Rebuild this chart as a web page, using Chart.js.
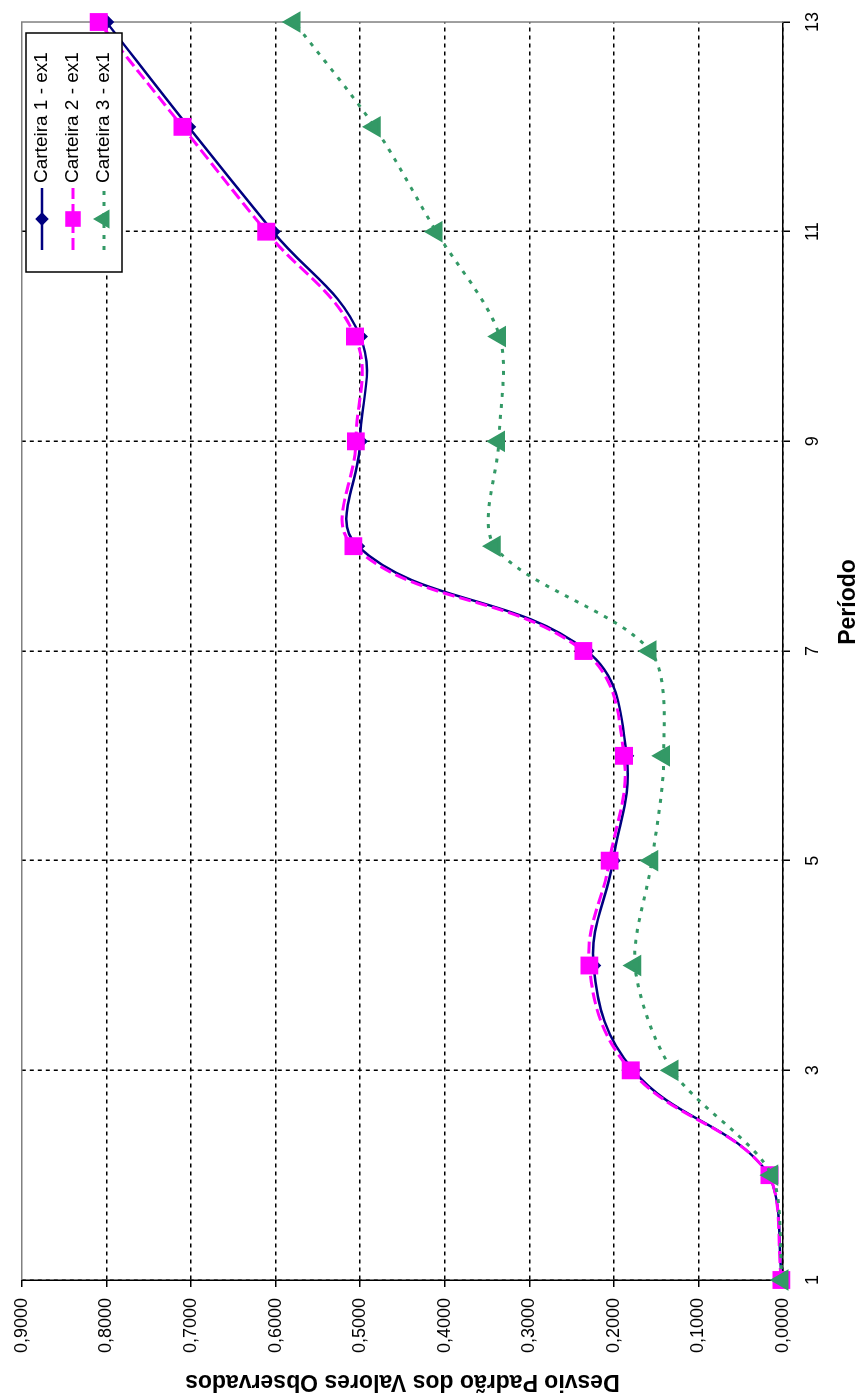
<!DOCTYPE html>
<html>
<head>
<meta charset="utf-8">
<title>Desvio Padrão dos Valores Observados</title>
<script src="https://cdn.jsdelivr.net/npm/chart.js@4.4.1/dist/chart.umd.min.js"></script>
<style>
    html, body { margin: 0; padding: 0; background: #fff; overflow: hidden; }
    /* o gráfico é desenhado deitado e girado 90° */
    #wrap {
        position: absolute; left: 0; top: 0;
        width: 1397px; height: 865px;
        transform-origin: 0 0;
        transform: translateY(1397px) rotate(-90deg);
    }
</style>
</head>
<body>
<div id="wrap"><canvas id="desvioChart" width="1397" height="865"></canvas></div>
<script>
// Períodos e desvio padrão de cada carteira
var periodos = [1, 2, 3, 4, 5, 6, 7, 8, 9, 10, 11, 12, 13];
var carteira1 = [0.001, 0.016, 0.177, 0.224, 0.201, 0.185, 0.232, 0.503, 0.500, 0.500, 0.603, 0.703, 0.800];
var carteira2 = [0.002, 0.016, 0.180, 0.229, 0.205, 0.188, 0.236, 0.508, 0.505, 0.506, 0.611, 0.710, 0.809];
var carteira3 = [0.001, 0.013, 0.131, 0.175, 0.155, 0.141, 0.157, 0.341, 0.336, 0.335, 0.410, 0.483, 0.578];

var ticksPeriodo = [1, 3, 5, 7, 9, 11, 13];
var ticksDesvio = [0, 0.1, 0.2, 0.3, 0.4, 0.5, 0.6, 0.7, 0.8, 0.9];

var fonte = 'Liberation Sans, Arial, sans-serif';
Chart.defaults.font.family = fonte;
Chart.defaults.color = '#000';

function pontos(valores) {
    return periodos.map(function(p, i) { return { x: p, y: valores[i] }; });
}

// linhas de grade tracejadas; a última fica cinza (borda da área)
function corGrade(ctx) {
    return ctx.tick && ctx.tick.value === ctx.scale.max ? 'rgba(0,0,0,0)' : '#000';
}

// legenda com moldura dentro da área do gráfico
var legendaCaixa = {
    id: 'legendaCaixa',
    afterDraw: function(chart) {
        var ctx = chart.ctx;
        var x0 = 1125, y0 = 26, w = 239, h = 96;
        ctx.save();
        ctx.fillStyle = '#fff';
        ctx.fillRect(x0, y0, w, h);
        ctx.strokeStyle = '#000';
        ctx.lineWidth = 1.5;
        ctx.strokeRect(x0, y0, w, h);
        chart.data.datasets.forEach(function(ds, i) {
            var y = y0 + 16 + i * 31;
            ctx.strokeStyle = ds.borderColor;
            ctx.lineWidth = ds.borderWidth;
            ctx.setLineDash(ds.borderDash || []);
            ctx.beginPath();
            ctx.moveTo(x0 + 22, y);
            ctx.lineTo(x0 + 84, y);
            ctx.stroke();
            ctx.setLineDash([]);
            ctx.fillStyle = ds.pointBackgroundColor;
            ctx.strokeStyle = ds.pointBorderColor;
            Chart.helpers.drawPoint(ctx, {
                pointStyle: ds.pointStyle, radius: ds.pointRadius * 0.85, borderWidth: 1, rotation: 0
            }, x0 + 53, y);
            ctx.fillStyle = '#000';
            ctx.font = '19px ' + fonte;
            ctx.textAlign = 'left';
            ctx.textBaseline = 'middle';
            ctx.fillText(ds.label, x0 + 89, y);
        });
        // título do eixo X
        ctx.font = 'bold 23px ' + fonte;
        ctx.textAlign = 'center';
        ctx.textBaseline = 'middle';
        ctx.fillText('Período', 795, 849);
        ctx.restore();
    }
};

// borda cinza no topo e à direita da área de plotagem
var bordaArea = {
    id: 'bordaArea',
    beforeDatasetsDraw: function(chart) {
        var a = chart.chartArea, ctx = chart.ctx;
        ctx.save();
        ctx.strokeStyle = '#808080';
        ctx.lineWidth = 1.5;
        ctx.beginPath();
        ctx.moveTo(a.left, a.top);
        ctx.lineTo(a.right, a.top);
        ctx.lineTo(a.right, a.bottom);
        ctx.stroke();
        ctx.restore();
    }
};

var ctx1 = document.getElementById('desvioChart').getContext('2d');
var desvioChart = new Chart(ctx1, {
    type: 'line',
    data: {
        datasets: [{
            label: 'Carteira 1 - ex1',
            data: pontos(carteira1),
            borderColor: '#000080',
            backgroundColor: '#000080',
            borderWidth: 2.5,
            pointStyle: 'rectRot',
            pointRadius: 6,
            pointBackgroundColor: '#000080',
            pointBorderColor: '#000080',
            tension: 0.4,
            clip: false,
            order: 3
        }, {
            label: 'Carteira 2 - ex1',
            data: pontos(carteira2),
            borderColor: '#ff00ff',
            backgroundColor: '#ff00ff',
            borderWidth: 3,
            borderDash: [12, 5],
            pointStyle: 'rect',
            pointRadius: 10.5,
            pointBackgroundColor: '#ff00ff',
            pointBorderColor: '#ff00ff',
            tension: 0.4,
            clip: false,
            order: 2
        }, {
            label: 'Carteira 3 - ex1',
            data: pontos(carteira3),
            borderColor: '#339966',
            backgroundColor: '#339966',
            borderWidth: 3,
            borderDash: [4, 7],
            pointStyle: 'triangle',
            pointRadius: 9.5,
            pointBackgroundColor: '#339966',
            pointBorderColor: '#339966',
            tension: 0.3,
            clip: false,
            order: 1
        }]
    },
    options: {
        responsive: false,
        animation: false,
        devicePixelRatio: 1,
        layout: { padding: { top: 20, right: 16, left: 0, bottom: 0 } },
        plugins: {
            legend: { display: false },
            tooltip: { enabled: false }
        },
        scales: {
            x: {
                type: 'linear',
                position: 'bottom',
                min: 1,
                max: 13,
                afterBuildTicks: function(s) {
                    s.ticks = ticksPeriodo.map(function(v) { return { value: v }; });
                },
                afterFit: function(s) { s.height = 82; },
                ticks: { font: { size: 18 }, padding: 12, maxRotation: 0, autoSkip: false },
                grid: { color: corGrade, lineWidth: 1.5, tickLength: 7, tickColor: '#000', tickWidth: 1.5 },
                border: { color: '#000', width: 1.5, dash: [4, 4] }
            },
            y: {
                type: 'linear',
                min: 0,
                max: 0.9,
                afterBuildTicks: function(s) {
                    s.ticks = ticksDesvio.map(function(v) { return { value: v }; });
                },
                afterFit: function(s) { s.width = 117; },
                ticks: {
                    font: { size: 18 },
                    padding: 11,
                    callback: function(v) { return Number(v).toFixed(4).replace('.', ','); }
                },
                title: {
                    display: true,
                    text: 'Desvio Padrão dos Valores Observados',
                    font: { size: 23, weight: 'bold' },
                    padding: { top: 2, bottom: 0 }
                },
                grid: { color: corGrade, lineWidth: 1.5, tickLength: 7, tickColor: '#000', tickWidth: 1.5 },
                border: { color: '#000', width: 1.5, dash: [4, 4] }
            }
        }
    },
    plugins: [bordaArea, legendaCaixa]
});
</script>
</body>
</html>
